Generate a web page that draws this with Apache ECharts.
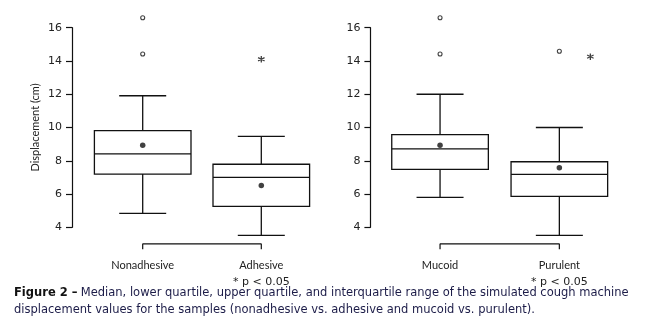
<!DOCTYPE html>
<html>
<head>
<meta charset="utf-8">
<script src="https://cdn.jsdelivr.net/npm/echarts@6/dist/echarts.min.js"></script>
<style>
  html, body { margin: 0; padding: 0; background: #fff; }
  #chart { width: 665px; height: 334px; }
</style>
</head>
<body>
<div id="chart"></div>
<script>
// Group labels for each panel (second line: significance note)
const groupsA = ['Nonadhesive', 'Adhesive\n* p < 0.05'];
const groupsB = ['Mucoid', 'Purulent\n* p < 0.05'];

// Box statistics per group: [lower whisker, Q1, median, Q3, upper whisker]
const boxesA = [
  [4.84, 7.20, 8.42, 9.81, 11.91],
  [3.52, 5.26, 7.00, 7.79, 9.47]
];
const boxesB = [
  [5.80, 7.48, 8.72, 9.57, 12.00],
  [3.52, 5.86, 7.18, 7.94, 10.00]
];

// Group means
const meansA = [8.93, 6.52];
const meansB = [8.93, 7.58];

// Outliers: [group index, value]
const outliersA = [[0, 16.60], [0, 14.42]];
const outliersB = [[0, 16.60], [0, 14.42], [1, 14.58]];

// Extreme values marked with an asterisk
const extremesA = [[1, 14.10]];
const extremesB = [[1.26, 14.26]];

// Comparison bracket levels (below the axis range)
const bracketTop = 3.0;
const bracketFoot = 2.68;

// Y axis ticks
const yMin = 4, yMax = 16, yStep = 2;

const FONT = 'Lato';
const NUM_FONT = 'DejaVu Sans';
const CAPTION_FONT = 'DejaVu Sans';
const INK = '#111';

const chart = echarts.init(document.getElementById('chart'), null, { renderer: 'canvas' });

function boxRenderer(params, api) {
  const x = api.value(0);
  const p = [1, 2, 3, 4, 5].map(i => api.coord([x, api.value(i)]));
  const cx = p[0][0];
  const half = 48.3, cap = 23.5;
  const st = { stroke: INK, lineWidth: 1.3, fill: null };
  return {
    type: 'group',
    children: [
      { type: 'line', shape: { x1: cx, y1: p[4][1], x2: cx, y2: p[3][1] }, style: st },
      { type: 'line', shape: { x1: cx, y1: p[1][1], x2: cx, y2: p[0][1] }, style: st },
      { type: 'line', shape: { x1: cx - cap, y1: p[4][1], x2: cx + cap, y2: p[4][1] }, style: st },
      { type: 'line', shape: { x1: cx - cap, y1: p[0][1], x2: cx + cap, y2: p[0][1] }, style: st },
      { type: 'rect', shape: { x: cx - half, y: p[3][1], width: half * 2, height: p[1][1] - p[3][1] },
        style: { stroke: INK, lineWidth: 1.3, fill: '#fff' } },
      { type: 'line', shape: { x1: cx - half, y1: p[2][1], x2: cx + half, y2: p[2][1] }, style: st }
    ]
  };
}

const asterisk = 'path://M0,-1L0,1M-0.87,-0.5L0.87,0.5M-0.87,0.5L0.87,-0.5';

function panelSeries(gi, boxes, means, outliers, extremes) {
  const xi = gi * 2 + 1; // value x axis of this grid
  return [
    {
      type: 'custom', xAxisIndex: xi, yAxisIndex: gi, clip: false,
      renderItem: boxRenderer,
      encode: { x: 0, y: [1, 2, 3, 4, 5] },
      data: boxes.map((b, i) => [i].concat(b)),
      z: 2
    },
    {
      type: 'scatter', xAxisIndex: xi, yAxisIndex: gi, clip: false,
      symbol: 'circle', symbolSize: 5.5,
      itemStyle: { color: INK },
      data: means.map((m, i) => [i, m]), z: 5
    },
    {
      type: 'scatter', xAxisIndex: xi, yAxisIndex: gi, clip: false,
      symbol: 'circle', symbolSize: 4,
      itemStyle: { color: '#fff', borderColor: INK, borderWidth: 1.1 },
      data: outliers, z: 5
    },
    {
      type: 'scatter', xAxisIndex: xi, yAxisIndex: gi, clip: false,
      symbol: asterisk, symbolSize: 6.5,
      itemStyle: { color: 'none', borderColor: INK, borderWidth: 1.3 },
      data: extremes, z: 5
    },
    {
      type: 'line', xAxisIndex: xi, yAxisIndex: gi, clip: false,
      symbol: 'none', silent: true,
      lineStyle: { color: INK, width: 1.2 },
      data: [[0, bracketFoot], [0, bracketTop], [1, bracketTop], [1, bracketFoot]],
      z: 3
    }
  ];
}

function yAxis(gi, offset, name) {
  return {
    type: 'value', gridIndex: gi, min: yMin, max: yMax, interval: yStep, offset: offset,
    position: 'left',
    name: name, nameLocation: 'middle', nameGap: 31,
    nameTextStyle: { fontFamily: FONT, fontSize: 11, color: '#222' },
    axisLine: { show: true, onZero: false, lineStyle: { color: INK, width: 1.2 } },
    axisTick: { show: true, length: 6, lineStyle: { color: INK, width: 1.2 } },
    axisLabel: { margin: 10, fontFamily: NUM_FONT, fontSize: 11, color: '#222' },
    splitLine: { show: false }
  };
}

function catAxis(gi, cats) {
  return {
    type: 'category', gridIndex: gi, data: cats, position: 'bottom',
    axisLine: { show: false, onZero: false }, axisTick: { show: false },
    axisLabel: {
      margin: 29.5, interval: 0, color: '#222',
      formatter: v => v.split('\n').map((s, i) => (i ? '{p|' + s + '}' : '{w|' + s + '}')).join('\n'),
      rich: {
        w: { fontFamily: FONT, fontSize: 11, color: '#222', lineHeight: 17 },
        p: { fontFamily: NUM_FONT, fontSize: 11, color: '#222', lineHeight: 17 }
      }
    }
  };
}

function valXAxis(gi) {
  return { type: 'value', gridIndex: gi, min: -0.5, max: 1.5, show: false,
           axisLine: { onZero: false } };
}

chart.setOption({
  animation: false,
  backgroundColor: '#fff',
  grid: [
    { left: 83.4, top: 27.7, width: 237.2, height: 199.6 },
    { left: 380.4, top: 27.7, width: 238.6, height: 199.6 }
  ],
  xAxis: [catAxis(0, groupsA), valXAxis(0), catAxis(1, groupsB), valXAxis(1)],
  yAxis: [yAxis(0, 11.4, 'Displacement (cm)'), yAxis(1, 10, '')],
  series: [].concat(
    panelSeries(0, boxesA, meansA, outliersA, extremesA),
    panelSeries(1, boxesB, meansB, outliersB, extremesB)
  ),
  graphic: [
    {
      type: 'text', left: 14, top: 287,
      style: {
        text: '{b|Figure 2 –} {t|Median, lower quartile, upper quartile, and interquartile range of the simulated cough machine}',
        rich: {
          b: { fontFamily: CAPTION_FONT, fontSize: 11.5, fontWeight: 'bold', fill: '#111' },
          t: { fontFamily: CAPTION_FONT, fontSize: 11.5, fill: '#1c1c48' }
        }
      }
    },
    {
      type: 'text', left: 14, top: 304,
      style: {
        text: 'displacement values for the samples (nonadhesive vs. adhesive and mucoid vs. purulent).',
        fontFamily: CAPTION_FONT, fontSize: 11.5, fill: '#1c1c48'
      }
    }
  ]
});
</script>
</body>
</html>
